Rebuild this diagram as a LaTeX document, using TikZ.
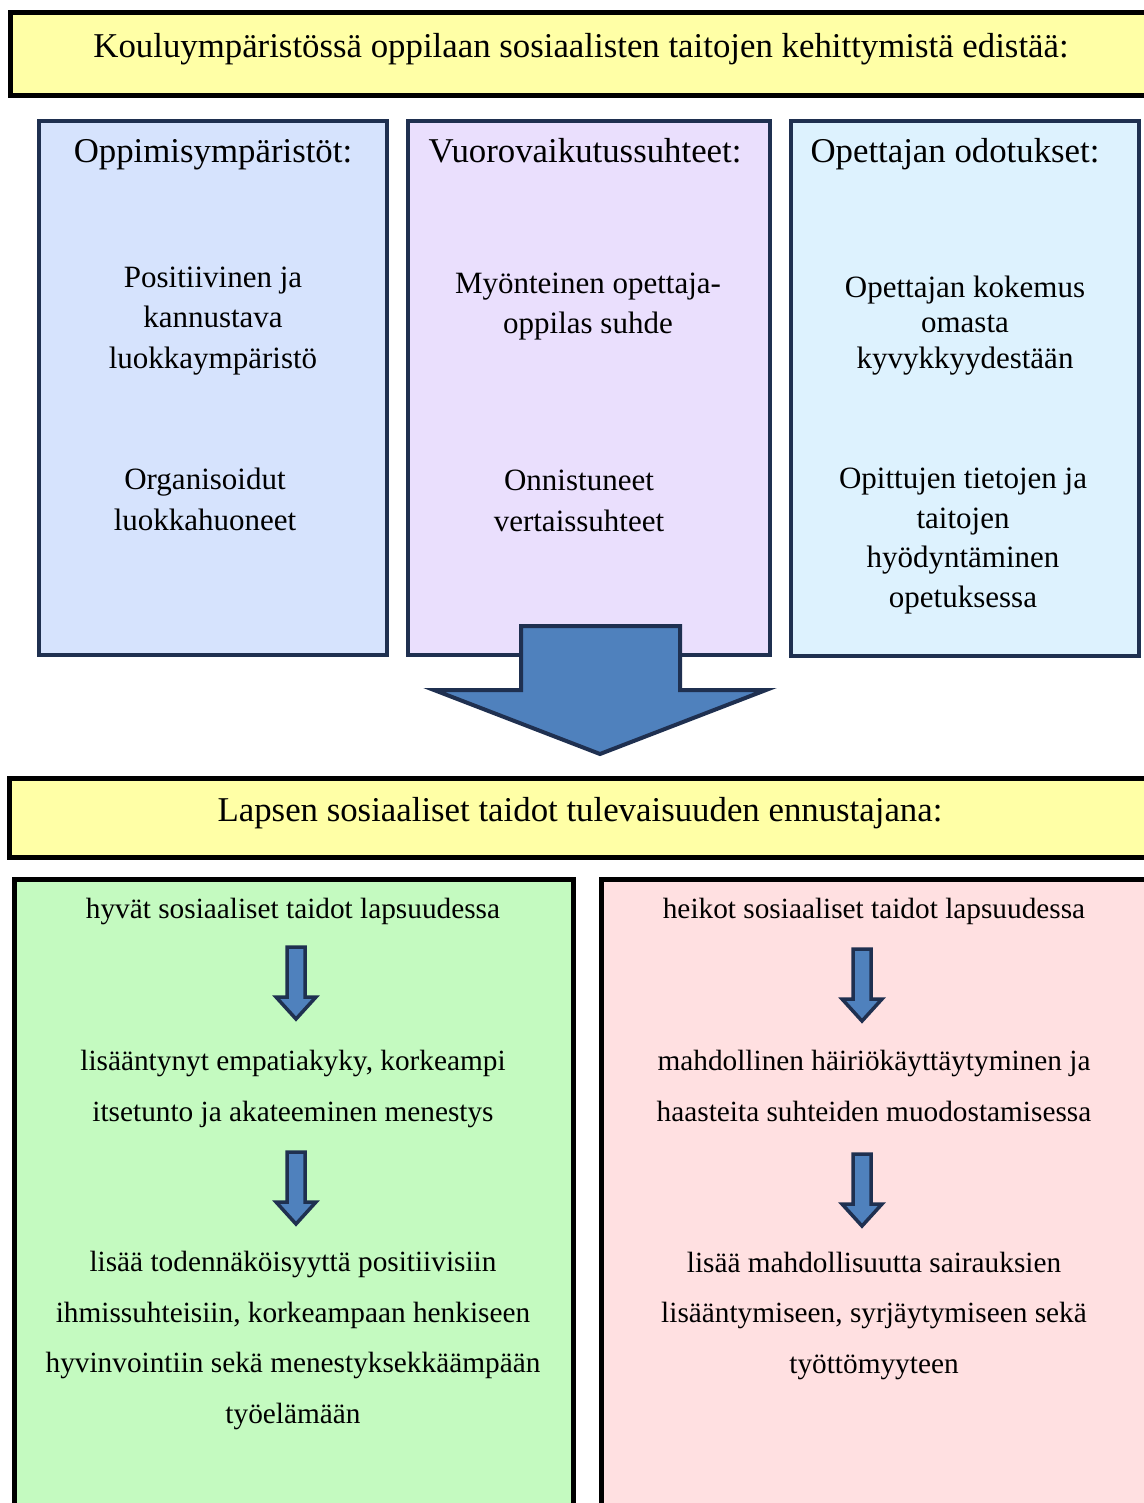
\documentclass[tikz,border=0pt]{standalone}
\usepackage{fontspec}
\setmainfont{Liberation Serif}
\definecolor{bannerfill}{HTML}{FFFFA6}
\definecolor{boxa}{HTML}{D6E3FD}
\definecolor{boxb}{HTML}{EADFFD}
\definecolor{boxc}{HTML}{DDF2FE}
\definecolor{navy}{HTML}{1F3050}
\definecolor{arrowfill}{HTML}{4F81BD}
\definecolor{greenfill}{HTML}{C4FAC0}
\definecolor{pinkfill}{HTML}{FFE0E1}
\tikzset{
  banner/.style={draw=black,line width=5pt,fill=bannerfill},
  topbox/.style={draw=navy,line width=3.5pt,fill=#1},
  lowbox/.style={draw=black,line width=5pt,fill=#1},
  blockarrow/.style={draw=navy,line width=4pt,fill=arrowfill,line join=miter},
  head/.style={font=\fontsize{34.8}{40}\selectfont,anchor=base,inner sep=0pt},
  item/.style={font=\fontsize{31}{40.3}\selectfont,align=center,anchor=base,inner sep=0pt},
  itemtight/.style={font=\fontsize{31}{35.5}\selectfont,align=center,anchor=base,inner sep=0pt},
  itemmid/.style={font=\fontsize{31}{39.5}\selectfont,align=center,anchor=base,inner sep=0pt},
  low/.style={font=\fontsize{29.3}{50.5}\selectfont,align=center,anchor=base,inner sep=0pt},
}
\begin{document}
\begin{tikzpicture}[x=1pt,y=-1pt]
\useasboundingbox (0,0) rectangle (1143,1503);
% banners
\draw[banner] (10,13) rectangle (1160,96);
\node[head] (t1) at (581,58) {Kouluympäristössä oppilaan sosiaalisten taitojen kehittymistä edistää:};
% top boxes
\draw[topbox=boxa] (39,121) rectangle (387,655);
\draw[topbox=boxb] (408,121) rectangle (770,655);
\draw[topbox=boxc] (791,121) rectangle (1139,656);
\node[head] (h1) at (213,163) {Oppimisympäristöt:};
\node[head] (h2) at (585,163) {Vuorovaikutussuhteet:};
\node[head] (h3) at (955,163) {Opettajan odotukset:};
% multi-line nodes: base = baseline of last line
\node[item] (a1) at (213,368) {Positiivinen ja\\kannustava\\luokkaympäristö};
\node[item] (a2) at (205,530) {Organisoidut\\luokkahuoneet};
\node[item] (b1) at (588,334) {Myönteinen opettaja-\\oppilas suhde};
\node[item] (b2) at (579,531) {Onnistuneet\\vertaissuhteet};
\node[itemtight] (c1) at (965,368) {Opettajan kokemus\\omasta\\kyvykkyydestään};
\node[itemmid] (c2) at (963,607) {Opittujen tietojen ja\\taitojen\\hyödyntäminen\\opetuksessa};
% big arrow
\draw[blockarrow] (521,626) -- (680,626) -- (680,690) -- (766,690) -- (600,754) -- (434,690) -- (521,690) -- cycle;
% second banner
\draw[banner] (9,778) rectangle (1160,857);
\node[head] (t2) at (580,821) {Lapsen sosiaaliset taidot tulevaisuuden ennustajana:};
% lower boxes
\draw[lowbox=greenfill] (14,879) rectangle (573,1530);
\draw[lowbox=pinkfill] (601,879) rectangle (1160,1530);
\node[low] (g0) at (293,918) {hyvät sosiaaliset taidot lapsuudessa};
\node[low] (g1) at (293,1121) {lisääntynyt empatiakyky, korkeampi\\itsetunto ja akateeminen menestys};
\node[low] (g2) at (293,1423) {lisää todennäköisyyttä positiivisiin\\ihmissuhteisiin, korkeampaan henkiseen\\hyvinvointiin sekä menestyksekkäämpään\\työelämään};
\node[low] (p0) at (874,918) {heikot sosiaaliset taidot lapsuudessa};
\node[low] (p1) at (874,1121) {mahdollinen häiriökäyttäytyminen ja\\haasteita suhteiden muodostamisessa};
\node[low] (p2) at (874,1373) {lisää mahdollisuutta sairauksien\\lisääntymiseen, syrjäytymiseen sekä\\työttömyyteen};
% small block arrows
\foreach \cx/\ty in {296/947, 296/1152, 862/949, 862/1154}{
  \draw[blockarrow,line width=3.5pt] (\cx-9,\ty) -- (\cx+9,\ty) -- (\cx+9,\ty+50) -- (\cx+20,\ty+50) -- (\cx,\ty+72) -- (\cx-20,\ty+50) -- (\cx-9,\ty+50) -- cycle;
}
\end{tikzpicture}
\end{document}
